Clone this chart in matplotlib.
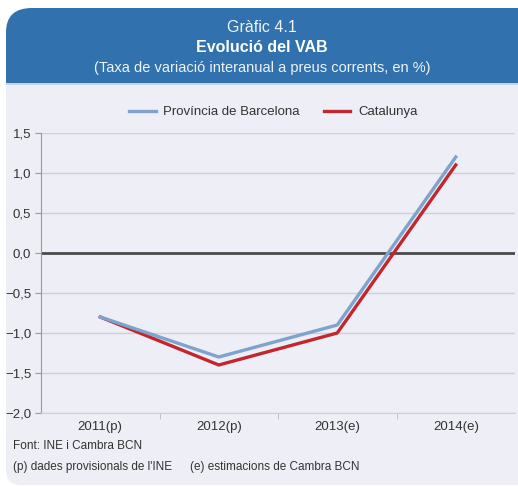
import matplotlib
matplotlib.use("Agg")
import matplotlib.pyplot as plt
from matplotlib.patches import FancyBboxPatch, Rectangle
from matplotlib.ticker import FixedLocator, FuncFormatter

# Data
categories = ["2011(p)", "2012(p)", "2013(e)", "2014(e)"]
barcelona = [-0.8, -1.3, -0.9, 1.2]
catalunya = [-0.8, -1.4, -1.0, 1.1]
y_ticks = [-2.0, -1.5, -1.0, -0.5, 0.0, 0.5, 1.0, 1.5]

HEADER = "#3171ad"
PANEL = "#eeeef6"
BLUE = "#7ca4cd"
RED = "#c1272d"

plt.rcParams['font.family'] = ['Liberation Sans', 'DejaVu Sans']

W, H = 518, 486
fig = plt.figure(figsize=(W / 100, H / 100), dpi=100)
fig.patch.set_facecolor("white")

def fx(px):
    return px / W

def fy(py):
    return 1 - py / H

# panel (rounded bottom-right), header (rounded top-left)
bg = [
    FancyBboxPatch((fx(6), fy(485)), fx(540 - 6), fy(60) - fy(485),
                   boxstyle="round,pad=0,rounding_size=0.03", facecolor=PANEL),
    FancyBboxPatch((fx(6), fy(110)), fx(560), fy(8) - fy(110),
                   boxstyle="round,pad=0,rounding_size=0.05", facecolor=HEADER),
    Rectangle((fx(6), fy(110)), fx(520), fy(84) - fy(110), facecolor=PANEL),
    Rectangle((fx(6), fy(85)), fx(520), fy(83) - fy(85), facecolor="#c9d3e6"),
]
for i, p in enumerate(bg):
    p.set_transform(fig.transFigure)
    p.set_edgecolor("none")
    p.set_zorder(-10 + i)
    fig.patches.append(p)

# titles
fig.text(fx(262), fy(27), "Gràfic 4.1", color="white", ha="center", va="center",
         fontsize=11.5, alpha=0.92)
fig.text(fx(262), fy(47), "Evolució del VAB", color="white", ha="center", va="center",
         fontsize=11.5, fontweight="bold")
fig.text(fx(262), fy(68), "(Taxa de variació interanual a preus corrents, en %)", color="white",
         ha="center", va="center", fontsize=10.5, alpha=0.92)

ax = fig.add_axes([fx(41), fy(413), fx(515 - 41), fy(133) - fy(413)])
ax.set_facecolor(PANEL)
x = list(range(len(categories)))
ax.plot(x, barcelona, color=BLUE, lw=2.4, label="Província de Barcelona", zorder=4)
ax.plot(x, catalunya, color=RED, lw=2.4, label="Catalunya", zorder=3)
ax.axhline(0, color="#4a4a4a", lw=2, zorder=2)

ax.set_xlim(-0.5, 3.5)
ax.set_ylim(-2.0, 1.5)
ax.set_yticks(y_ticks)
ax.yaxis.set_major_formatter(FuncFormatter(lambda v, p: f"{v:.1f}".replace(".", ",").replace("-", "\u2212")))
ax.grid(axis="y", color="#cfcfd6", lw=1, zorder=1)
ax.set_xticks(x)
ax.set_xticklabels(categories)
ax.xaxis.set_minor_locator(FixedLocator([0.5, 1.5, 2.5]))
ax.tick_params(axis="x", which="major", length=0, pad=6, labelsize=9.5, colors="#333333")
ax.tick_params(axis="x", which="minor", length=4, color="#bbbbbb")
ax.tick_params(axis="y", length=4, color="#999999", labelsize=9.5, labelcolor="#333333", pad=3)
for s in ["top", "right"]:
    ax.spines[s].set_visible(False)
ax.spines["left"].set_color("#999999")
ax.spines["bottom"].set_color("#cfcfd6")

leg = ax.legend(loc="lower center", bbox_to_anchor=(0.49, 1.01), ncol=2, frameon=False,
                fontsize=9.5, handlelength=2.0, columnspacing=1.8, handletextpad=0.6)
for t in leg.get_texts():
    t.set_color("#333333")

fig.text(fx(13), fy(446), "Font: INE i Cambra BCN", fontsize=8.5, color="#333333", va="center")
fig.text(fx(13), fy(467), "(p) dades provisionals de l'INE", fontsize=8.5, color="#333333", va="center")
fig.text(fx(190), fy(467), "(e) estimacions de Cambra BCN", fontsize=8.5, color="#333333", va="center")

fig.savefig("out.png", dpi=100, facecolor=fig.get_facecolor())
